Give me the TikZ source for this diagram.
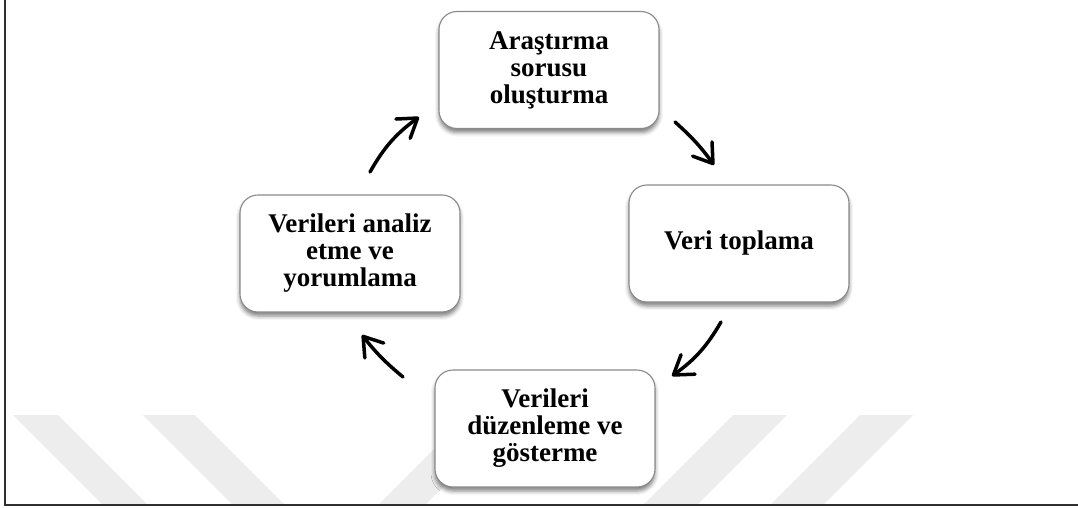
\documentclass[tikz,border=0pt]{standalone}
\usepackage{fontspec}
\setmainfont{Liberation Serif}
\usetikzlibrary{arrows.meta,shadows.blur}
\definecolor{boxgray}{HTML}{8A8A8A}
\definecolor{wmgray}{HTML}{EDEDED}
\definecolor{framegray}{HTML}{303030}
\begin{document}
\begin{tikzpicture}[x=1pt,y=-1pt,
  stage/.style={draw=boxgray, line width=1.1pt, rounded corners=18pt, fill=white,
    minimum width=220pt, minimum height=117pt, inner sep=0pt, align=center,
    font=\fontsize{27}{27}\selectfont\bfseries,
    blur shadow={shadow xshift=0pt, shadow yshift=-4pt, shadow blur radius=4pt, shadow opacity=50}},
  cyc/.style={line width=3.5pt, line cap=round,
    -{Straight Barb[length=18pt,width=24pt,line cap=round,line join=round]}},
  band/.style={fill=wmgray, draw=none}]
\useasboundingbox (0,0) rectangle (1078,508);

% faint diagonal background bands
\fill[band] (13,415) -- (58,415) -- (148,505) -- (103,505) -- cycle;
\fill[band] (143,415) -- (195,415) -- (285,505) -- (233,505) -- cycle;
\fill[band] (468,415) -- (515,415) -- (425,505) -- (378,505) -- cycle;
\fill[band] (733,415) -- (787,415) -- (697,505) -- (643,505) -- cycle;
\fill[band] (860,415) -- (913,415) -- (823,505) -- (770,505) -- cycle;

% frame
\draw[framegray, line width=1.6pt] (5,0) -- (5,505) -- (1078,505);

% stages of the cycle
\node[stage] (soru) at (549,70) {Araştırma\\sorusu\\oluşturma};
\node[stage] (topla) at (739,243.5) {Veri toplama};
\node[stage] (duzen) at (545,428.5) {Verileri\\düzenleme ve\\gösterme};
\node[stage] (analiz) at (350,253.5) {Verileri analiz\\etme ve\\yorumlama};

% arrow end points
\coordinate (a1s) at (370,172);
\coordinate (a1e) at (419,117);
\coordinate (a2s) at (675,122);
\coordinate (a2e) at (714,165);
\coordinate (a3s) at (721,322);
\coordinate (a3e) at (672,376);
\coordinate (a4s) at (403,377);
\coordinate (a4e) at (362,335);

\draw[cyc] (a1s) to[bend left=12] (a1e);
\draw[cyc] (a2s) to[bend left=6] (a2e);
\draw[cyc] (a3s) to[bend left=12] (a3e);
\draw[cyc] (a4s) to[bend left=6] (a4e);
\end{tikzpicture}
\end{document}
